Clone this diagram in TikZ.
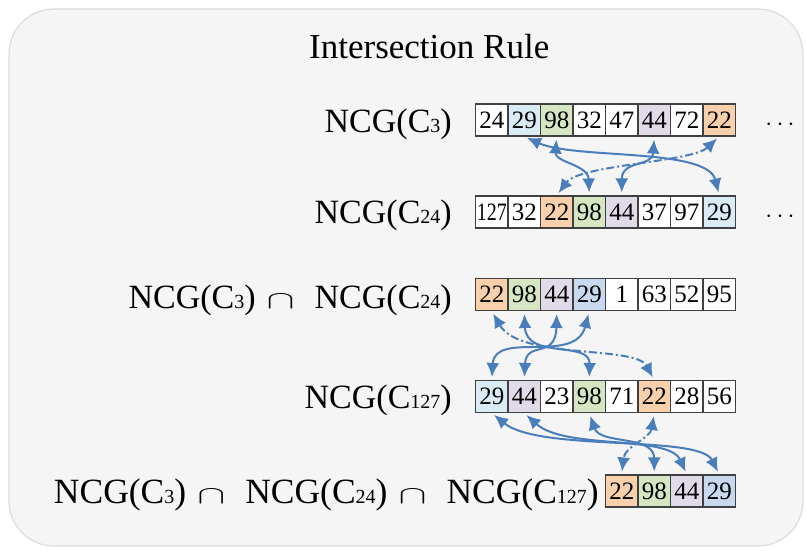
\documentclass[tikz,border=0pt]{standalone}
\usepackage{fontspec}
\usepackage{graphicx}
\setmainfont{Liberation Serif}
\usetikzlibrary{arrows.meta}
\definecolor{bgfill}{HTML}{F5F5F5}
\definecolor{bgedge}{HTML}{DCDCDC}
\definecolor{cellline}{HTML}{404040}
\definecolor{linkblue}{HTML}{4A7EBB}
\definecolor{lblue}{HTML}{DAEBF5}
\definecolor{mblue}{HTML}{C8D8EF}
\definecolor{lgreen}{HTML}{D6E6C3}
\definecolor{lpurple}{HTML}{E1DAE8}
\definecolor{lorange}{HTML}{F9D0AC}
\newcommand{\ncg}[1]{NCG(C{\fontsize{20}{20}\selectfont #1})}
\newcommand{\capop}{\hspace{11pt}\resizebox{28pt}{14pt}{$\cap$}\hspace{20pt}}
\begin{document}
\begin{tikzpicture}[
x=1pt,y=-1pt,
cell/.style={draw=cellline,line width=1.1pt,minimum width=32.5pt,minimum height=32pt,inner sep=0pt,font=\fontsize{25}{25}\selectfont},
rowlabel/.style={anchor=base east,inner sep=0pt,font=\fontsize{34}{40}\selectfont},
link/.style={draw=linkblue,line width=2pt,arrows={Latex[length=14pt,width=13pt]-Latex[length=14pt,width=13pt]},shorten <=3pt,shorten >=3pt},
dashlink/.style={link,dash pattern=on 8pt off 3pt on 2pt off 3pt},
more/.style={font=\fontsize{25}{25}\selectfont}
]
\useasboundingbox (0,0) rectangle (806,551);
\draw[draw=bgedge,fill=bgfill,line width=1.2pt,rounded corners=45pt] (9,9) rectangle (803,546);
\node[anchor=base west,inner sep=0pt,font=\fontsize{35}{40}\selectfont] (title) at (309,59) {Intersection Rule};

\node[rowlabel] (la) at (452,132) {\ncg{3}};
\node[rowlabel] (lb) at (452,223) {\ncg{24}};
\node[rowlabel] (lc) at (452,308) {\ncg{3}\capop\ncg{24}};
\node[rowlabel] (ld) at (452,408) {\ncg{127}};
\node[rowlabel,font=\fontsize{35.5}{40}\selectfont] (le) at (599,503) {\ncg{3}\capop\ncg{24}\capop\ncg{127}};

\foreach \v/\c [count=\i from 0] in {24/white,29/lblue,98/lgreen,32/white,47/white,44/lpurple,72/white,22/lorange}
  \node[cell,fill=\c] (a\i) at ({491.75+32.5*\i},120) {\v};
\foreach \v/\c [count=\i from 0] in {{\scalebox{0.8}[1]{127}}/white,32/white,22/lorange,98/lgreen,44/lpurple,37/white,97/white,29/lblue}
  \node[cell,fill=\c] (b\i) at ({491.75+32.5*\i},212) {\v};
\foreach \v/\c [count=\i from 0] in {22/lorange,98/lgreen,44/lpurple,29/mblue,1/white,63/white,52/white,95/white}
  \node[cell,fill=\c] (c\i) at ({491.75+32.5*\i},294.5) {\v};
\foreach \v/\c [count=\i from 0] in {29/lblue,44/lpurple,23/white,98/lgreen,71/white,22/lorange,28/white,56/white}
  \node[cell,fill=\c] (d\i) at ({491.75+32.5*\i},396.5) {\v};
\foreach \v/\c [count=\i from 0] in {22/lorange,98/lgreen,44/lpurple,29/mblue}
  \node[cell,fill=\c] (e\i) at ({491.75+32.5*(4+\i)},491) {\v};

\node[more] (adots) at (780,125) {$\cdots$};
\node[more] (bdots) at (780,217) {$\cdots$};

\draw[link] (a1.south) .. controls +(51,23) and +(-12,-48) .. (b7.north);
\draw[link] (a2.south) .. controls +(-2,26) and +(-1,-31) .. (b3.north);
\draw[link] (a5.south) .. controls +(-2,31) and +(0,-36) .. (b4.north);
\draw[dashlink] (a7.south) .. controls +(-28,26) and +(23,-31) .. (b2.north);

\draw[dashlink] (c0.south) .. controls +(28,49) and +(-19,-35) .. (d5.north);
\draw[link] (c1.south) .. controls +(2,49) and +(1,-40) .. (d3.north);
\draw[link] (c2.south) .. controls +(-1,49) and +(2,-40) .. (d1.north);
\draw[link] (c3.south) .. controls +(-14,54) and +(3,-50) .. (d0.north);

\draw[link] (d0.south) .. controls +(48,39) and +(-20,-40) .. (e3.north);
\draw[link] (d1.south) .. controls +(41,37) and +(-18,-40) .. (e2.north);
\draw[link] (d3.south) .. controls +(11,32) and +(0,-40) .. (e1.north);
\draw[dashlink] (d5.south) .. controls +(-4,25) and +(3,-28) .. (e0.north);
\end{tikzpicture}
\end{document}
